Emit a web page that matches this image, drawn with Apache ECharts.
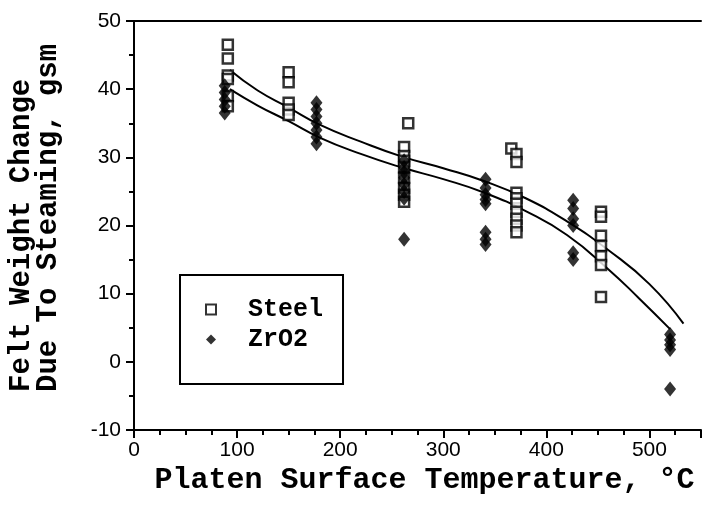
<!DOCTYPE html>
<html><head><meta charset="utf-8">
<script src="https://cdn.jsdelivr.net/npm/echarts@6/dist/echarts.min.js"></script>
<style>html,body{margin:0;padding:0;background:#fff}#c{width:704px;height:505px}</style>
</head><body><div id="c"></div>
<script>
// Steel (open squares)
var steelT = [91,91,91,91,91,91, 150,150,150,150,150, 266,262,262,262,262,262,262,262,262, 366,371,371,371,371,371,371,371,371,371, 453,453,453,453,453,453,453];
var steelV = [46.5,44.5,42,41.5,39,37.5, 42.5,41,38,37,36.2, 35,31.5,30.2,29.5,28.5,27,25.5,24.5,23.5, 31.3,30.5,29.3,24.8,24,23.2,22,21,20,19, 22,21.3,18.5,17,15.5,14.2,9.5];
// ZrO2 (filled diamonds)
var zrT = [88,88,88,88,88, 177,177,177,177,177,177,177, 262,262,262,262,262,262,262,262, 341,341,341,341,341,341,341,341, 426,426,426,426,426,426, 520,520,520,520,520];
var zrV = [40.5,39.5,38.5,37.5,36.5, 38,37,36,35,34,33,32, 29.5,28.5,27.8,27,26,25,24,18, 26.8,25.5,24.5,23.8,23.2,19,18,17.2, 23.7,22.5,21,20,16,15, 4,3.2,2.5,1.8,-4];
// fitted curves
var steelFitT = [93,120,150,180,220,260,300,340,380,420,460,500,533];
var steelFitV = [42.8,39.8,37.3,34.8,32.3,30.1,28.4,26.5,24,20.6,16.4,11.4,5.6];
var zrFitT = [93,120,150,180,220,260,300,340,380,420,460,490,520];
var zrFitV = [40,37.6,35.3,32.9,30.5,28.5,26.8,24.8,22.1,18.6,13.6,9.3,4.8];
// axes
var xTicks = {min:0, max:550, interval:100};
var yTicks = {min:-10, max:50, interval:10};

function pairs(a,b){return a.map(function(v,i){return [v,b[i]];});}

var mono = '"Liberation Mono", "DejaVu Sans Mono", monospace';
var sans = '"Liberation Sans", Arial, sans-serif';
var chart = echarts.init(document.getElementById('c'), null, {renderer:'canvas'});
chart.setOption({
  animation:false,
  backgroundColor:'#fff',
  grid:{left:134, top:21, width:576, height:409, show:false},
  xAxis:[{type:'value', min:xTicks.min, max:xTicks.max, interval:xTicks.interval,
    axisLine:{onZero:false, lineStyle:{color:'#000', width:2}},
    axisTick:{show:true, length:8, lineStyle:{color:'#000', width:2}},
    minorTick:{show:true, splitNumber:4, length:5, lineStyle:{color:'#000', width:2}},
    splitLine:{show:false},
    axisLabel:{color:'#000', fontFamily:sans, fontSize:21, margin:10,
      formatter:function(v){return v>500?'':String(v);}},
    name:'Platen Surface Temperature, °C', nameLocation:'middle', nameGap:29,
    nameTextStyle:{color:'#000', fontFamily:mono, fontWeight:'bold', fontSize:30, padding:[0,0,0,14]}
  },{type:'value', position:'top', min:xTicks.min, max:xTicks.max,
    axisLine:{onZero:false, lineStyle:{color:'#000', width:2}},
    axisTick:{show:false}, axisLabel:{show:false}, splitLine:{show:false}
  }],
  yAxis:{type:'value', min:yTicks.min, max:yTicks.max, interval:yTicks.interval,
    axisLine:{onZero:false, lineStyle:{color:'#000', width:2}},
    axisTick:{show:true, length:8, lineStyle:{color:'#000', width:2}},
    minorTick:{show:true, splitNumber:2, length:5, lineStyle:{color:'#000', width:2}},
    splitLine:{show:false},
    axisLabel:{color:'#000', fontFamily:sans, fontSize:21, margin:13}
  },
  legend:{data:['Steel','ZrO2'], orient:'vertical', left:180, top:275,
    backgroundColor:'#fff', borderColor:'#000', borderWidth:2,
    padding:[22,20,32,25], itemGap:5, itemWidth:10, itemHeight:10,
    textStyle:{color:'#000', fontFamily:mono, fontWeight:'bold', fontSize:25, padding:[0,0,0,27]}
  },
  graphic:[{type:'text', x:8.5, y:392, rotation:Math.PI/2,
    style:{text:'Felt Weight Change\nDue To Steaming, gsm', fill:'#000',
      font:'bold 29px ' + mono, textAlign:'left', textVerticalAlign:'top', lineHeight:27}}],
  series:[
    {name:'Steel', type:'scatter', data:pairs(steelT,steelV), symbol:'rect', symbolSize:10,
      itemStyle:{color:'#fff', borderColor:'#000', borderWidth:2.5}, z:3},
    {name:'ZrO2', type:'scatter', data:pairs(zrT,zrV), symbol:'diamond', symbolSize:[12,15],
      itemStyle:{color:'#000'}, z:3},
    {name:'Steel fit', type:'line', data:pairs(steelFitT,steelFitV), smooth:true, showSymbol:false,
      lineStyle:{color:'#000', width:2}, z:2},
    {name:'ZrO2 fit', type:'line', data:pairs(zrFitT,zrFitV), smooth:true, showSymbol:false,
      lineStyle:{color:'#000', width:2}, z:2}
  ]
});
</script></body></html>
